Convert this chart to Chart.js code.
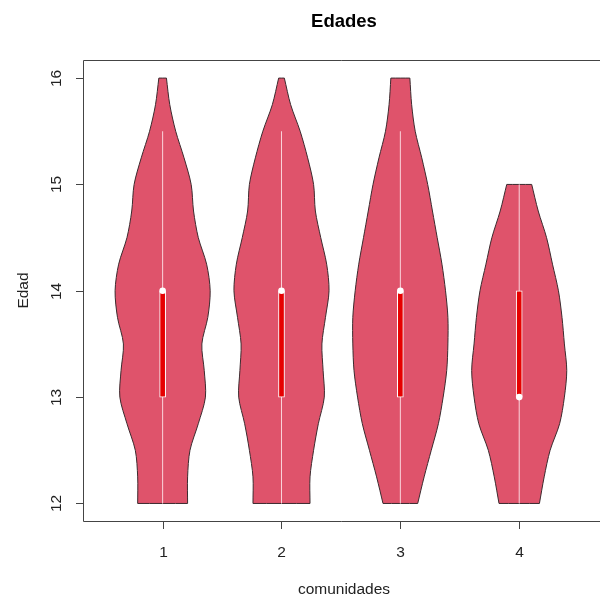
<!DOCTYPE html>
<html>
<head>
<meta charset="utf-8">
<script src="https://cdn.jsdelivr.net/npm/chart.js@4"></script>
<style>
  html, body { margin: 0; padding: 0; background: #fff; overflow: hidden; }
  #myChart { display: block; }
</style>
</head>
<body>
<canvas id="myChart" width="600" height="595"></canvas>
<script>
"use strict";
// datos
var comunidades = ["1", "2", "3", "4"];
var edadTicks = [12, 13, 14, 15, 16];
var niveles = [12, 12.25, 12.5, 12.75, 13, 13.25, 13.5, 13.75, 14, 14.25, 14.5, 14.75, 15, 15.25, 15.5, 15.75, 16];
// semi-ancho de cada violin en cada nivel de edad
var ancho1 = [0.21, 0.21, 0.23, 0.30, 0.36, 0.35, 0.33, 0.38, 0.40, 0.37, 0.30, 0.26, 0.24, 0.18, 0.11, 0.06, 0.032];
var ancho2 = [0.24, 0.24, 0.27, 0.31, 0.36, 0.35, 0.34, 0.37, 0.40, 0.38, 0.33, 0.285, 0.27, 0.22, 0.157, 0.077, 0.024];
var ancho3 = [0.146, 0.20, 0.26, 0.32, 0.36, 0.39, 0.40, 0.40, 0.38, 0.35, 0.31, 0.27, 0.23, 0.18, 0.125, 0.095, 0.08];
var ancho4 = [0.17, 0.21, 0.26, 0.34, 0.38, 0.40, 0.38, 0.36, 0.33, 0.28, 0.23, 0.16, 0.105, null, null, null, null];
var q1 = [13, 13, 13, 13];
var q3 = [14, 14, 14, 14];
var medianas = [14, 14, 14, 13];
var bigoteMin = [12, 12, 12, 12];
var bigoteMax = [15.5, 15.5, 15.5, 15];

var anchos = [ancho1, ancho2, ancho3, ancho4];
var datasets = [];

for (let i = 0; i < anchos.length; i++) {
    let xc = i + 1;
    let der = [];
    let izq = [];
    for (let k = 0; k < niveles.length; k++) {
        if (anchos[i][k] === null) continue;
        der.push({ x: xc + anchos[i][k], y: niveles[k] });
        izq.unshift({ x: xc - anchos[i][k], y: niveles[k] });
    }
    // esquinas repetidas para que la curva no se pase en los bordes planos
    let forma = [der[0]].concat(der, [der[der.length - 1]], [izq[0]], izq, [izq[izq.length - 1]], [der[0]], [der[0]]);
    datasets.push({
        type: "line",
        data: forma,
        showLine: true,
        fill: "shape",
        backgroundColor: "#df536b",
        borderColor: "#3b2a2e",
        borderWidth: 1,
        pointRadius: 0,
        tension: 0.3,
        order: 4,
    });
    datasets.push({
        type: "line",
        data: [{ x: xc, y: bigoteMin[i] }, { x: xc, y: bigoteMax[i] }],
        showLine: true,
        borderColor: "rgba(255,235,238,0.85)",
        borderWidth: 1,
        pointRadius: 0,
        order: 3,
    });
}

datasets.push({
    type: "bar",
    data: comunidades.map(function (c, i) {
        return { x: i + 1, y: [q1[i], q3[i]] };
    }),
    backgroundColor: "#e60000",
    borderColor: "#ffffff",
    borderWidth: 1,
    borderSkipped: false,
    barThickness: 6,
    order: 2,
});

datasets.push({
    type: "scatter",
    data: medianas.map(function (m, i) {
        return { x: i + 1, y: m };
    }),
    pointRadius: 3.3,
    pointBackgroundColor: "#ffffff",
    pointBorderWidth: 0,
    order: 1,
});

var ejes = {
    id: "ejes",
    afterDraw: function (chart) {
        var ctx = chart.ctx;
        var a = chart.chartArea;
        var sx = chart.scales.x;
        var sy = chart.scales.y;
        ctx.save();
        ctx.strokeStyle = "#444";
        ctx.lineWidth = 1;
        // caja del grafico: el borde derecho queda fuera de la imagen
        ctx.beginPath();
        ctx.moveTo(chart.width, a.top + 0.5);
        ctx.lineTo(a.left + 0.5, a.top + 0.5);
        ctx.lineTo(a.left + 0.5, a.bottom + 0.5);
        ctx.lineTo(chart.width, a.bottom + 0.5);
        ctx.stroke();

        ctx.fillStyle = "#222";
        ctx.font = "15.5px 'Liberation Sans', Arial, sans-serif";
        ctx.textAlign = "center";
        ctx.textBaseline = "alphabetic";
        comunidades.forEach(function (c, i) {
            let px = Math.round(sx.getPixelForValue(i + 1)) + 0.5;
            ctx.beginPath();
            ctx.moveTo(px, a.bottom);
            ctx.lineTo(px, a.bottom + 8);
            ctx.stroke();
            ctx.fillText(c, px, 557);
        });
        edadTicks.forEach(function (t) {
            let py = Math.round(sy.getPixelForValue(t)) + 0.5;
            ctx.beginPath();
            ctx.moveTo(a.left - 7, py);
            ctx.lineTo(a.left, py);
            ctx.stroke();
            ctx.save();
            ctx.translate(61, py);
            ctx.rotate(-Math.PI / 2);
            ctx.fillText(String(t), 0, 0);
            ctx.restore();
        });

        let cx = 344;
        ctx.fillText("comunidades", cx, 594);
        ctx.save();
        ctx.translate(28, (a.top + a.bottom) / 2);
        ctx.rotate(-Math.PI / 2);
        ctx.fillText("Edad", 0, 0);
        ctx.restore();

        ctx.fillStyle = "#000";
        ctx.font = "bold 18.5px 'Liberation Sans', Arial, sans-serif";
        ctx.fillText("Edades", cx, 27);
        ctx.restore();
    },
};

var ctx = document.getElementById("myChart").getContext("2d");
var myChart = new Chart(ctx, {
    type: "scatter",
    data: { datasets: datasets },
    options: {
        responsive: false,
        animation: false,
        layout: { padding: { left: 83, top: 60, right: 0, bottom: 74 } },
        plugins: {
            legend: { display: false },
            tooltip: { enabled: false },
        },
        scales: {
            x: { type: "linear", display: false, offset: false, min: 0.33, max: 4.646 },
            y: { type: "linear", display: false, min: 11.835, max: 16.17 },
        },
    },
    plugins: [ejes],
});
</script>
</body>
</html>
